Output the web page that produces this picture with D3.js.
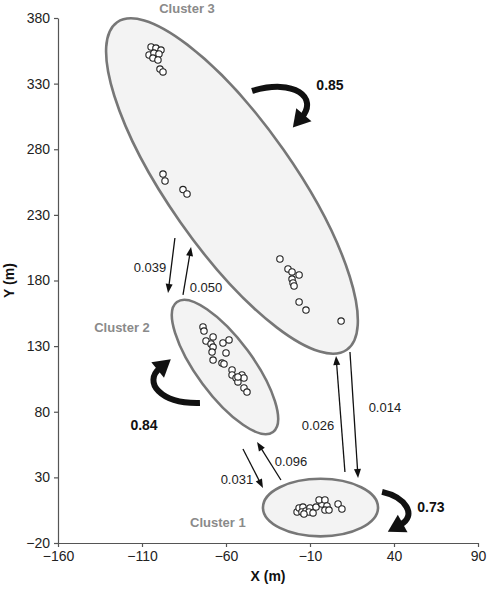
<!DOCTYPE html>
<html>
<head>
<meta charset="utf-8">
<script src="https://cdn.jsdelivr.net/npm/d3@7"></script>
<style>
  body { margin: 0; background: #fff; }
  text { font-family: "Liberation Sans", Arial, sans-serif; }
  .axis text { font-size: 14px; fill: #222; }
  .axis path, .axis line { stroke: #555; stroke-width: 1.2; }
</style>
</head>
<body>
<div id="chart"></div>
<script>
// ---------------- data ----------------
var xTicks = [-160, -110, -60, -10, 40, 90];
var yTicks = [-20, 30, 80, 130, 180, 230, 280, 330, 380];

// tagged fish positions (m)
var cluster3Pts = [
    [-104.6, 357.9], [-101.7, 357.1], [-98.7, 355.6], [-105.8, 351.8], [-102.9, 353.3],
    [-99.9, 352.6], [-103.5, 349.5], [-100.5, 348.0], [-99.3, 341.1], [-97.5, 338.9],
    [-97.5, 261.1], [-96.3, 255.8], [-85.6, 249.3], [-83.2, 245.9],
    [-27.9, 196.4], [-23.1, 188.8], [-20.7, 186.5], [-16.5, 184.2], [-20.7, 181.1],
    [-20.1, 178.1], [-19.5, 175.8], [-16.5, 163.6], [-12.4, 157.5], [8.5, 149.1]
];
var cluster2Pts = [
    [-73.7, 144.6], [-73.1, 141.5], [-71.9, 133.9], [-67.7, 137.0], [-68.9, 131.6],
    [-67.7, 129.3], [-68.3, 125.5], [-67.7, 119.4], [-61.8, 132.4], [-58.2, 134.7],
    [-60.0, 124.8], [-62.4, 117.1], [-61.2, 116.4], [-56.4, 111.8], [-56.4, 108.0],
    [-54.0, 105.7], [-52.9, 102.7], [-50.5, 108.0], [-49.3, 105.7], [-52.9, 106.5],
    [-49.3, 98.1], [-47.5, 95.0]
];
var cluster1Pts = [
    [-17.7, 3.6], [-16.5, 6.7], [-14.2, 7.4], [-14.8, 3.6], [-12.4, 4.4], [-10.0, 6.7],
    [-10.6, 3.6], [-13.6, 2.1], [-8.2, 2.9], [-6.4, 7.4], [-2.9, 9.7], [-4.6, 12.8],
    [-1.1, 12.8], [0.1, 8.2], [-1.1, 5.1], [1.3, 5.1], [6.7, 9.7], [9.0, 5.9]
];

// cluster outlines: major axis end points (m) and minor/major ratio
var clusterNames = ["Cluster 3", "Cluster 2", "Cluster 1"];
var clusterAxes = [
    [-124.8, 376.8, 11.9, 127.2],
    [-89.2, 163.6, -32.0, 64.6],
    [-38.0, 7.0, 30.5, 7.0]
];
var clusterRatio = [0.315, 0.347, 0.5];
var clusterLabelPos = [[-83.2, 387.6], [-121.9, 144.6], [-64.8, -4]];

// transition probabilities between clusters
var moveProbs = ["0.039", "0.050", "0.031", "0.096", "0.026", "0.014"];
var moveFromTo = [
    [-90.4, 212.4, -94.5, 170.5],
    [-85.6, 169.0, -80.8, 205.5],
    [-49.9, 51.6, -38.0, 21.9],
    [-27.3, 28.0, -41.5, 57.0],
    [10.8, 34.1, 5.5, 122.5],
    [13.8, 125.5, 18.6, 29.5]
];
var moveLabelPos = [[-105.2, 190.3], [-71.9, 175], [-53.5, 28.8], [-21.3, 42.5], [-5.2, 69.9], [34.6, 83.6]];

// probability of staying in the same cluster
var stayProbs = ["0.85", "0.84", "0.73"];
var stayCurves = [
    [[-44.5, 324.4], [-18.9, 334.3], [-5.2, 319.0], [-14.8, 304.6]],
    [[-75.5, 86.7], [-99.3, 85.9], [-109.4, 102.7], [-99.3, 113.3]],
    [[32.9, 18.9], [46.5, 15.0], [54.3, 1.3], [43.6, -6.3]]
];
var stayLabelPos = [[1.9, 329], [-108.8, 69.9], [62, 7.4]];

// ---------------- chart ----------------
var margin = { top: 18, right: 9, bottom: 46, left: 58 },
    width = 487 - margin.left - margin.right,
    height = 589 - margin.top - margin.bottom;

var x = d3.scaleLinear().domain([-160, 90]).range([0, width]);
var y = d3.scaleLinear().domain([-20, 380]).range([height, 0]);

var svg = d3.select("#chart").append("svg")
    .attr("width", width + margin.left + margin.right)
    .attr("height", height + margin.top + margin.bottom)
    .append("g")
    .attr("transform", "translate(" + margin.left + "," + margin.top + ")");

// ellipses
clusterAxes.forEach(function(a, i) {
    var x1 = x(a[0]), y1 = y(a[1]), x2 = x(a[2]), y2 = y(a[3]);
    var cx = (x1 + x2) / 2, cy = (y1 + y2) / 2;
    var rx = Math.hypot(x2 - x1, y2 - y1) / 2;
    var ang = Math.atan2(y2 - y1, x2 - x1) * 180 / Math.PI;
    svg.append("ellipse")
        .attr("cx", cx).attr("cy", cy)
        .attr("rx", rx).attr("ry", rx * clusterRatio[i])
        .attr("transform", "rotate(" + ang + "," + cx + "," + cy + ")")
        .attr("fill", "#f3f3f3")
        .attr("stroke", "#777")
        .attr("stroke-width", 2.6);
});

// points
[cluster3Pts, cluster2Pts, cluster1Pts].forEach(function(pts) {
    svg.selectAll(null).data(pts).enter().append("circle")
        .attr("cx", function(d) { return x(d[0]); })
        .attr("cy", function(d) { return y(d[1]); })
        .attr("r", 3.2)
        .attr("fill", "#fff")
        .attr("stroke", "#222")
        .attr("stroke-width", 1.1);
});

// cluster labels
svg.selectAll(null).data(clusterNames).enter().append("text")
    .attr("x", function(d, i) { return x(clusterLabelPos[i][0]); })
    .attr("y", function(d, i) { return y(clusterLabelPos[i][1]); })
    .attr("dy", "0.35em")
    .attr("text-anchor", "middle")
    .style("font-size", "13px")
    .style("font-weight", "bold")
    .style("fill", "#8a8a8a")
    .text(function(d) { return d; });

// arrow head helper
function head(tipX, tipY, dx, dy, len, half) {
    var l = Math.hypot(dx, dy);
    var ux = dx / l, uy = dy / l;
    var bx = tipX - ux * len, by = tipY - uy * len;
    return "M" + tipX + "," + tipY +
        "L" + (bx - uy * half) + "," + (by + ux * half) +
        "L" + (bx + uy * half) + "," + (by - ux * half) + "Z";
}

// thin transition arrows
moveFromTo.forEach(function(m, i) {
    var x1 = x(m[0]), y1 = y(m[1]), x2 = x(m[2]), y2 = y(m[3]);
    var dx = x2 - x1, dy = y2 - y1, l = Math.hypot(dx, dy);
    svg.append("line")
        .attr("x1", x1).attr("y1", y1)
        .attr("x2", x2 - dx / l * 7).attr("y2", y2 - dy / l * 7)
        .attr("stroke", "#111")
        .attr("stroke-width", 1.3);
    svg.append("path")
        .attr("d", head(x2, y2, dx, dy, 9, 3.5))
        .attr("fill", "#111");
});

svg.selectAll(null).data(moveProbs).enter().append("text")
    .attr("x", function(d, i) { return x(moveLabelPos[i][0]); })
    .attr("y", function(d, i) { return y(moveLabelPos[i][1]); })
    .attr("dy", "0.35em")
    .attr("text-anchor", "middle")
    .style("font-size", "13px")
    .style("fill", "#222")
    .text(function(d) { return d; });

// thick self-transition arrows
stayCurves.forEach(function(c) {
    var p = c.map(function(d) { return [x(d[0]), y(d[1])]; });
    svg.append("path")
        .attr("d", "M" + p[0] + "C" + p[1] + " " + p[2] + " " + p[3])
        .attr("fill", "none")
        .attr("stroke", "#111")
        .attr("stroke-width", 6);
    var dx = p[3][0] - p[2][0], dy = p[3][1] - p[2][1], l = Math.hypot(dx, dy);
    var tipX = p[3][0] + dx / l * 14, tipY = p[3][1] + dy / l * 14;
    svg.append("path")
        .attr("d", head(tipX, tipY, dx, dy, 17, 10))
        .attr("fill", "#111");
});

svg.selectAll(null).data(stayProbs).enter().append("text")
    .attr("x", function(d, i) { return x(stayLabelPos[i][0]); })
    .attr("y", function(d, i) { return y(stayLabelPos[i][1]); })
    .attr("dy", "0.35em")
    .attr("text-anchor", "middle")
    .style("font-size", "14px")
    .style("font-weight", "bold")
    .style("fill", "#111")
    .text(function(d) { return d; });

// axes
svg.append("g")
    .attr("class", "x axis")
    .attr("transform", "translate(0," + height + ")")
    .call(d3.axisBottom(x).tickValues(xTicks).tickSize(4).tickSizeOuter(0).tickPadding(4));

svg.append("g")
    .attr("class", "y axis")
    .call(d3.axisLeft(y).tickValues(yTicks).tickSize(4).tickSizeOuter(0).tickPadding(4));

svg.append("text")
    .attr("x", width / 2)
    .attr("y", height + 38)
    .attr("text-anchor", "middle")
    .style("font-size", "14px")
    .style("font-weight", "bold")
    .style("fill", "#111")
    .text("X (m)");

svg.append("text")
    .attr("transform", "rotate(-90)")
    .attr("x", -height / 2)
    .attr("y", -44)
    .attr("text-anchor", "middle")
    .style("font-size", "14px")
    .style("font-weight", "bold")
    .style("fill", "#111")
    .text("Y (m)");
</script>
</body>
</html>
